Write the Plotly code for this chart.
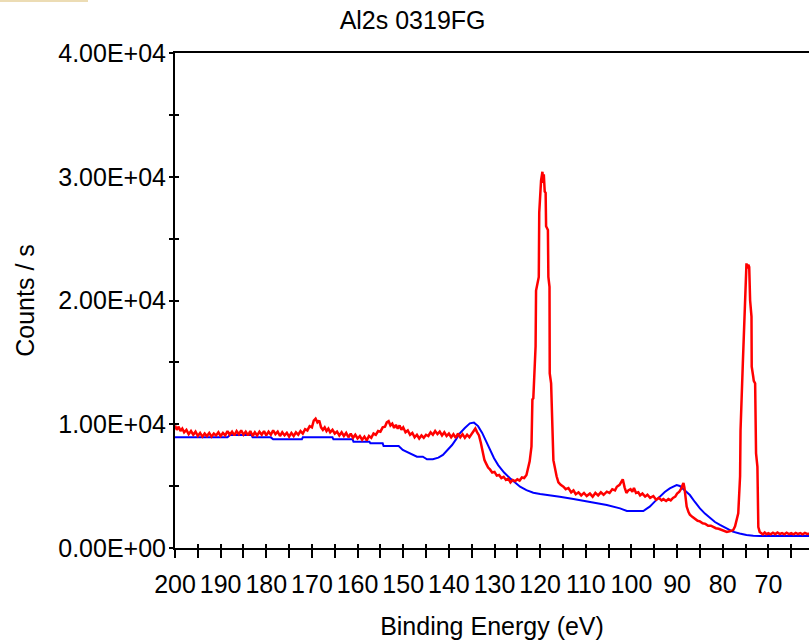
import plotly.graph_objects as go

# ---------------- data ----------------
red_energy = [200.0, 199.6, 199.2, 198.8, 198.4, 198.0, 197.5, 197.0, 196.5, 196.0, 195.5, 195.0, 194.5, 194.0,
              193.5, 193.0, 192.5, 192.0, 191.5, 191.0, 190.5, 190.0, 189.5, 189.0, 188.5, 188.0, 187.5, 187.0,
              186.5, 186.0, 185.5, 185.0, 184.5, 184.0, 183.5, 183.0, 182.5, 182.0, 181.5, 181.0, 180.5, 180.0,
              179.5, 179.0, 178.5, 178.0, 177.5, 177.0, 176.5, 176.0, 175.5, 175.0, 174.5, 174.0, 173.5, 173.0,
              172.5, 172.0, 171.5, 171.0, 170.5, 170.0, 169.6, 169.2, 168.8, 168.4, 168.0, 167.6, 167.2, 166.8,
              166.4, 166.0, 165.5, 165.0, 164.5, 164.0, 163.5, 163.0, 162.5, 162.0, 161.5, 161.0, 160.5, 160.0,
              159.5, 159.0, 158.5, 158.0, 157.5, 157.0, 156.5, 156.0, 155.5, 155.0, 154.5, 154.0, 153.6, 153.2,
              152.8, 152.4, 152.0, 151.6, 151.2, 150.8, 150.4, 150.0, 149.5, 149.0, 148.5, 148.0, 147.5, 147.0,
              146.5, 146.0, 145.5, 145.0, 144.5, 144.0, 143.5, 143.0, 142.5, 142.0, 141.5, 141.0, 140.5, 140.0,
              139.5, 139.0, 138.5, 138.0, 137.5, 137.0, 136.5, 136.0, 135.5, 135.0, 134.6, 134.2, 133.8, 133.4,
              133.0, 132.6, 132.2, 131.8, 131.4, 131.0, 130.5, 130.0, 129.5, 129.0, 128.5, 128.0, 127.5, 127.0,
              126.5, 126.0, 125.5, 125.0, 124.5, 124.0, 123.5, 123.0, 122.7, 122.3, 121.9, 121.7, 121.5, 121.0,
              120.9, 120.3, 120.2, 119.8, 119.5, 119.35, 119.2, 119.0, 118.8, 118.7, 118.3, 118.2, 117.95, 117.9,
              117.6, 117.5, 117.4, 117.1, 116.4, 116.0, 115.5, 114.9, 114.4, 113.8, 113.2, 112.7, 112.2, 111.6,
              111.0, 110.4, 109.8, 109.1, 108.5, 107.9, 107.3, 106.7, 106.1, 105.4, 104.8, 104.2, 103.6, 103.2,
              102.6, 102.2, 101.9, 101.5, 101.1, 100.7, 100.2, 99.8, 99.45, 99.0, 98.5, 98.1, 97.6, 97.0,
              96.5, 95.9, 95.2, 94.6, 94.0, 93.4, 93.0, 92.4, 91.9, 91.4, 90.9, 90.4, 90.0, 89.5,
              89.0, 88.8, 88.6, 88.4, 88.1, 87.9, 87.5, 87.2, 86.6, 86.0, 85.5, 85.0, 84.4, 83.8,
              83.2, 82.6, 82.1, 81.5, 80.9, 80.3, 79.7, 79.1, 78.5, 78.0, 77.7, 77.3, 76.6, 76.2,
              76.1, 75.6, 75.1, 74.9, 74.8, 74.6, 74.4, 74.2, 74.0, 73.7, 73.65, 73.3, 73.2, 72.9,
              72.7, 72.4, 72.2, 71.9, 71.6, 71.2, 70.8, 70.4, 70.0, 69.5, 69.0, 68.5, 68.0, 67.5,
              67.0, 66.5, 66.0, 65.5, 65.0, 64.5, 64.0, 63.5, 63.0, 62.5, 62.0, 61.5, 61.0]
red_counts = [9900, 9550, 9800, 9450, 9650, 9350, 9550, 9200, 9450, 9150, 9400, 9050, 9300, 9000,
              9250, 9050, 9300, 9000, 9250, 9100, 9350, 9050, 9300, 9100, 9450, 9150, 9400, 9100,
              9450, 9200, 9500, 9150, 9400, 9100, 9450, 9050, 9350, 9100, 9400, 9150, 9450, 9100,
              9400, 9150, 9500, 9200, 9400, 9050, 9350, 9100, 9300, 9000, 9300, 9050, 9350, 9150,
              9450, 9250, 9600, 9500, 9850, 9750, 10300, 10450, 10150, 10300, 9750, 9550, 9750, 9450,
              9650, 9350, 9550, 9250, 9400, 9100, 9350, 9050, 9300, 8950, 9250, 8900, 9150, 8850,
              9050, 8750, 9000, 8700, 9050, 8900, 9250, 9150, 9450, 9400, 9750, 9800, 10150, 10250,
              9900, 10050, 9700, 9950, 9650, 9900, 9550, 9750, 9350, 9500, 9150, 9300, 8950, 9150,
              8850, 9100, 8900, 9150, 9050, 9350, 9150, 9450, 9200, 9400, 9100, 9350, 9050, 9250,
              8950, 9200, 8900, 9250, 8950, 9200, 8900, 9150, 8950, 9250, 9450, 9650, 9350, 9100,
              8500, 7700, 7100, 6800, 6500, 6350, 6100, 6150, 5850, 5900, 5650, 5750, 5500, 5600,
              5300, 5500, 5400, 5550, 5450, 5700, 5650, 5900, 6300, 7000, 8200, 12000, 12100, 16300,
              20800, 21900, 27100, 29700, 30400, 29500, 30200, 28800, 28700, 26000, 25700, 21900, 21100, 14100,
              13300, 12100, 9500, 7100, 5800, 5300, 5100, 4950, 4750, 4850, 4500, 4650, 4350, 4500,
              4250, 4450, 4200, 4400, 4150, 4450, 4250, 4500, 4300, 4550, 4450, 4750, 4650, 4950,
              5100, 5350, 5550, 4900, 4450, 4650, 4750, 4550, 4850, 4450, 4500, 4250, 4400, 4150,
              4300, 4050, 4200, 3900, 4050, 3850, 3950, 3800, 3950, 3850, 4050, 4150, 4400, 4550,
              4850, 5100, 5250, 4900, 3900, 3350, 2900, 2700, 2500, 2350, 2200, 2150, 2000, 1950,
              1800, 1800, 1700, 1600, 1550, 1450, 1400, 1300, 1350, 1400, 1450, 1750, 2800, 5800,
              9500, 14900, 21100, 22900, 23000, 22600, 22900, 22700, 20000, 18700, 14650, 13800, 13500, 13300,
              7650, 6550, 1700, 1300, 1200, 1100, 1250, 1120, 1200, 1100, 1230, 1120, 1250, 1130,
              1200, 1100, 1230, 1120, 1200, 1100, 1220, 1130, 1200, 1110, 1220, 1140, 1150]

blue_energy = [200.0, 188.5, 188.0, 183.2, 183.0, 179.0, 178.5, 172.2, 172.0, 165.5, 165.3, 161.1, 160.9, 157.4,
               157.2, 154.5, 154.3, 151.0, 150.1, 148.5, 147.0, 145.7, 144.8, 143.5, 142.3, 141.3, 140.3, 139.3,
               138.4, 137.6, 136.5, 135.4, 134.5, 133.6, 132.7, 131.8, 131.0, 130.1, 129.2, 127.9, 126.6, 125.5,
               124.4, 123.0, 121.5, 120.0, 118.6, 115.7, 112.7, 109.1, 105.4, 102.5, 101.0, 97.4, 96.0, 94.9,
               93.8, 92.7, 91.6, 90.1, 89.4, 88.3, 87.2, 86.1, 85.0, 83.9, 82.8, 81.7, 80.6, 79.2,
               77.8, 76.3, 74.8, 73.3, 71.9, 61.0]
blue_counts = [8940, 8940, 9130, 9130, 8940, 8940, 8780, 8780, 8940, 8940, 8780, 8780, 8590, 8590,
               8460, 8460, 8240, 8240, 7920, 7650, 7380, 7380, 7170, 7170, 7300, 7520, 7900, 8320,
               8800, 9270, 9700, 10070, 10130, 9850, 9300, 8600, 7920, 7250, 6700, 6100, 5630, 5250,
               4950, 4680, 4470, 4370, 4280, 4150, 3960, 3740, 3470, 3200, 2990, 2990, 3340, 3750,
               4150, 4520, 4820, 5090, 5010, 4680, 4280, 3720, 3200, 2780, 2400, 2100, 1860, 1570,
               1320, 1170, 1050, 1000, 970, 970]

x_tick_values = [200, 195, 190, 185, 180, 175, 170, 165, 160, 155, 150, 145, 140, 135, 130, 125, 120,
                 115, 110, 105, 100, 95, 90, 85, 80, 75, 70, 65]
x_tick_text = ["200", "", "190", "", "180", "", "170", "", "160", "", "150", "", "140", "", "130", "",
               "120", "", "110", "", "100", "", "90", "", "80", "", "70", ""]
y_tick_values = [0, 5000, 10000, 15000, 20000, 25000, 30000, 35000, 40000]
y_tick_text = ["0.00E+00", "", "1.00E+04", "", "2.00E+04", "", "3.00E+04", "", "4.00E+04"]

chart_title = "Al2s 0319FG"
x_title = "Binding Energy (eV)"
y_title = "Counts / s"

X_RANGE = [200, 61.1]
Y_RANGE = [0, 40000]
FONT = "Liberation Sans, Arial, sans-serif"

fig = go.Figure()
fig.add_trace(go.Scatter(x=blue_energy, y=blue_counts, mode="lines",
                         line=dict(color="#0000ff", width=2), showlegend=False, hoverinfo="skip"))
fig.add_trace(go.Scatter(x=red_energy, y=red_counts, mode="lines",
                         line=dict(color="#ff0000", width=2.5), showlegend=False, hoverinfo="skip"))
# carrier trace for the overlay axes (inside half of the crossing ticks)
fig.add_trace(go.Scatter(x=[X_RANGE[0]], y=[Y_RANGE[0]], mode="markers", marker=dict(opacity=0),
                         xaxis="x2", yaxis="y2", showlegend=False, hoverinfo="skip"))

fig.update_layout(
    width=809, height=644,
    margin=dict(l=175, r=0, t=53, b=96),
    paper_bgcolor="white", plot_bgcolor="white",
    font=dict(family=FONT, size=25, color="black"),
    title=dict(text=chart_title, x=0.51, xref="container", xanchor="center",
               y=1 - 20 / 644, yref="container", yanchor="middle",
               font=dict(family=FONT, size=25, color="black")),
    xaxis=dict(range=X_RANGE, tickmode="array", tickvals=x_tick_values, ticktext=x_tick_text,
               ticks="outside", ticklen=8, tickwidth=2, tickcolor="black",
               showline=True, linewidth=2, linecolor="black", mirror=True,
               showgrid=False, zeroline=False, ticklabelstandoff=5,
               tickfont=dict(family=FONT, size=25, color="black"),
               title=dict(text=x_title, standoff=20, font=dict(family=FONT, size=25, color="black"))),
    yaxis=dict(range=Y_RANGE, tickmode="array", tickvals=y_tick_values, ticktext=y_tick_text,
               ticks="outside", ticklen=4, tickwidth=2, tickcolor="black",
               showline=True, linewidth=2, linecolor="black", mirror=False,
               showgrid=False, zeroline=False, ticklabelstandoff=-2,
               tickfont=dict(family=FONT, size=25, color="black"),
               title=dict(text=y_title, standoff=17, font=dict(family=FONT, size=25, color="black"))),
    xaxis2=dict(range=X_RANGE, overlaying="x", anchor="y", side="bottom", tickmode="array",
                tickvals=x_tick_values, ticks="inside", ticklen=4, tickwidth=2, tickcolor="black",
                showticklabels=False, showline=False, showgrid=False, zeroline=False),
    yaxis2=dict(range=Y_RANGE, overlaying="y", anchor="x", side="left", tickmode="array",
                tickvals=y_tick_values, ticks="inside", ticklen=4, tickwidth=2, tickcolor="black",
                showticklabels=False, showline=False, showgrid=False, zeroline=False),
    shapes=[dict(type="rect", xref="paper", yref="paper", x0=-175 / 634, x1=-87 / 634,
                 y0=1 + 53 / 495, y1=1 + 51 / 495, line=dict(width=0), fillcolor="#ecdcb4", layer="above")],
)

fig.write_html("out.html")
